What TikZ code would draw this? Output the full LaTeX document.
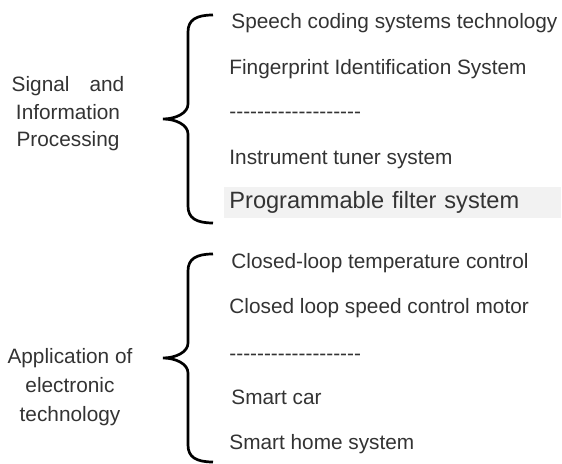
\documentclass[tikz,border=0pt]{standalone}
\usepackage{fontspec}
\setmainfont{Liberation Sans}[Ligatures=TeXOff]
\usepackage{xcolor}
\usepackage{tikz}
\definecolor{textgray}{RGB}{51,51,51}
\definecolor{highlightgray}{RGB}{242,242,242}

\begin{document}
\begin{tikzpicture}[
    x=0.5pt, y=-0.5pt,
    item/.style={anchor=base west, inner sep=0pt, text=textgray, font=\fontsize{10.4}{12}\selectfont},
    group/.style={align=center, inner sep=0pt, text=textgray},
    highlight/.style={anchor=base west, fill=highlightgray, inner xsep=2.5pt, inner ysep=0pt,
        text width=163.5pt, text height=11pt, text depth=4.5pt, align=left, text=textgray,
        font=\fontsize{11.8}{13}\selectfont},
    bracket/.style={line width=1.35pt}
]
    \useasboundingbox (0,0) rectangle (562,464);

    % upper group
    \node[group, font=\fontsize{10.4}{13.75}\selectfont] (signal) at (68,114) {Signal\hspace{10pt}and\\Information\\Processing};
    \coordinate (sigtop) at (213,15);
    \draw[bracket] (sigtop) .. controls +(-17,0) and +(0,-12) .. ++(-25,17) -- ++(0,72)
        .. controls +(0,9) and +(13,0) .. ++(-25,15) coordinate (sigtip)
        .. controls +(13,0) and +(0,-9) .. ++(25,15) -- ++(0,72)
        .. controls +(0,12) and +(-17,0) .. ++(25,17) coordinate (sigbot);

    \node[item] (speech) at (231,29) {Speech coding systems technology};
    \node[item] (finger) at (229,75) {Fingerprint Identification System};
    \node[item] (sigdots) at (229,119) {-------------------};
    \node[item] (tuner) at (229,165) {Instrument tuner system};
    \node[highlight] (filter) at (224,209) {Programmable filter system};

    % lower group
    \node[group, font=\fontsize{10.4}{14.5}\selectfont] (appl) at (70,387) {Application of\\electronic\\technology};
    \coordinate (apptop) at (213,254);
    \draw[bracket] (apptop) .. controls +(-17,0) and +(0,-12) .. ++(-25,17) -- ++(0,72)
        .. controls +(0,9) and +(13,0) .. ++(-25,15) coordinate (apptip)
        .. controls +(13,0) and +(0,-9) .. ++(25,15) -- ++(0,72)
        .. controls +(0,12) and +(-17,0) .. ++(25,17) coordinate (appbot);

    \node[item] (temp) at (231,269) {Closed-loop temperature control};
    \node[item] (motor) at (229,314) {Closed loop speed control motor};
    \node[item] (appdots) at (229,361) {-------------------};
    \node[item] (car) at (231,405) {Smart car};
    \node[item] (home) at (229,450) {Smart home system};
\end{tikzpicture}
\end{document}
